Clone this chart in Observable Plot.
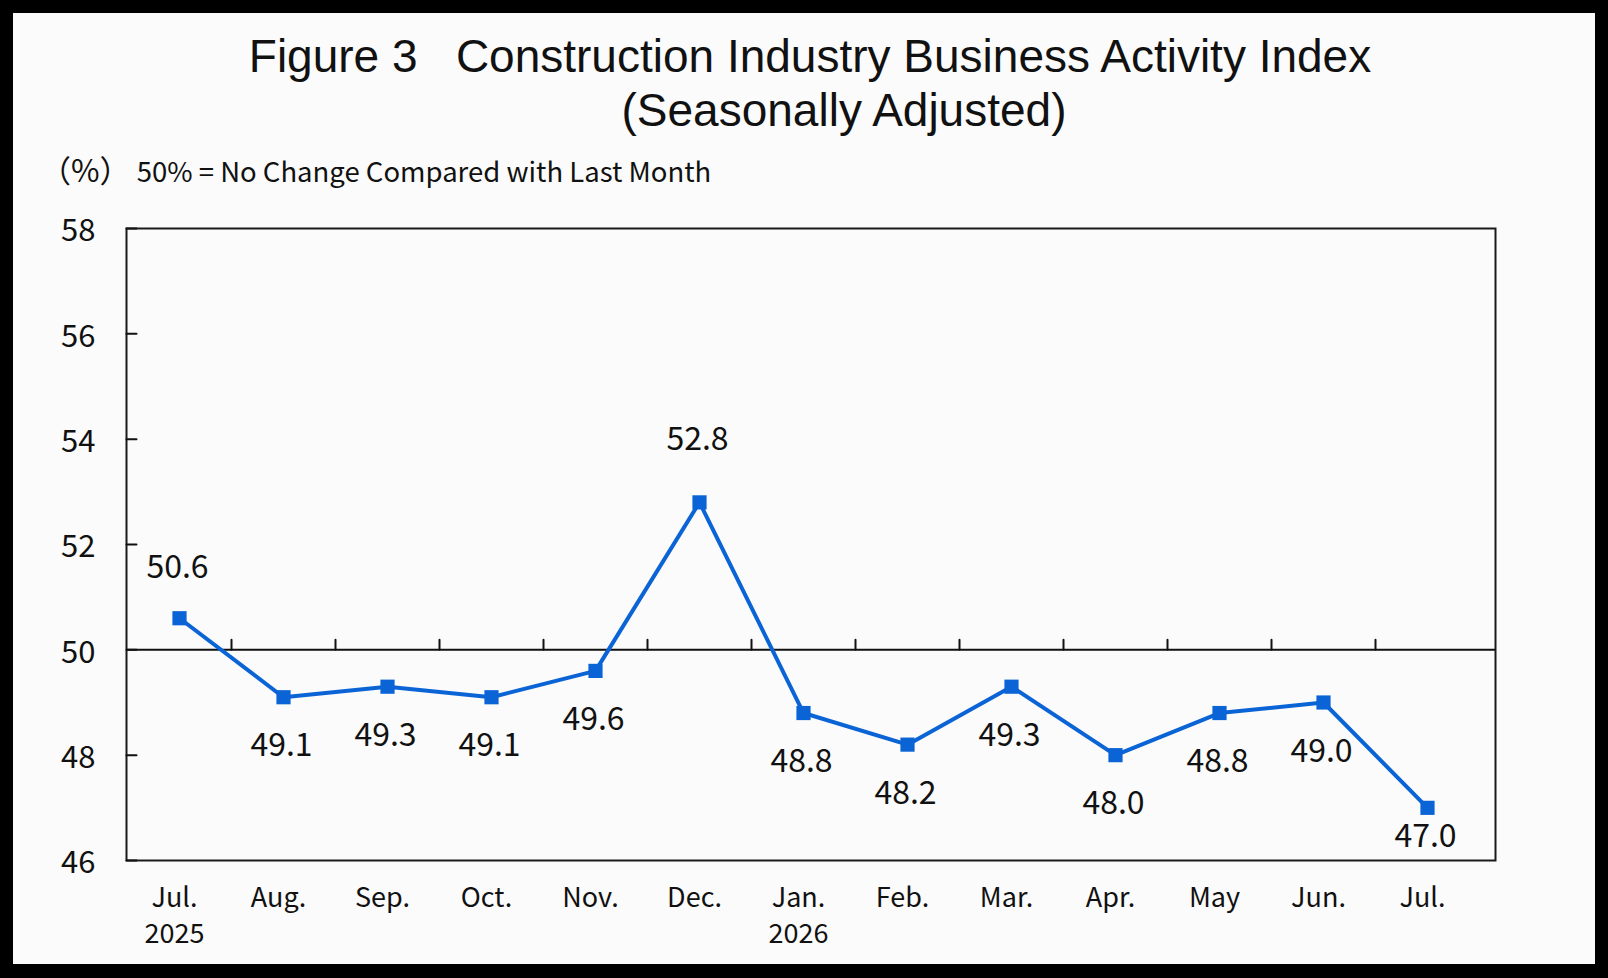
<!DOCTYPE html>
<html>
<head>
<meta charset="utf-8">
<script src="https://cdn.jsdelivr.net/npm/d3@7"></script>
<script src="https://cdn.jsdelivr.net/npm/@observablehq/plot@0.6"></script>
<style>
  html, body { margin: 0; padding: 0; background: #000; }
  #page { position: relative; width: 1608px; height: 978px; background: #000; overflow: hidden; }
  #panel { position: absolute; left: 13px; top: 13px; width: 1582px; height: 951px; background: #fbfbfb; }
  .t { position: absolute; white-space: pre; line-height: 1; color: #111; }
  .title { font-family: "Liberation Sans", Arial, sans-serif; font-size: 46px; transform: translateX(-50%); }
  #sub { font-family: "Noto Sans CJK SC", sans-serif; font-size: 27.5px; left: 40px; top: 153px; }
  #sub .unit { font-size: 31px; }
  #chart { position: absolute; left: 0; top: 200px; }
</style>
</head>
<body>
<div id="page">
  <div id="panel"></div>
  <div class="t title" style="left:810px; top:33px;">Figure 3   Construction Industry Business Activity Index</div>
  <div class="t title" style="left:844px; top:87px;">(Seasonally Adjusted)</div>
  <div class="t" id="sub"><span class="unit">（%）</span> 50% = No Change Compared with Last Month</div>
  <div id="chart"></div>
</div>
<script>
// Monthly construction business activity index, seasonally adjusted
const months = ["Jul.", "Aug.", "Sep.", "Oct.", "Nov.", "Dec.", "Jan.", "Feb.", "Mar.", "Apr.", "May", "Jun.", "Jul."];
const years = ["2025", "", "", "", "", "", "2026", "", "", "", "", "", ""];
const values = [50.6, 49.1, 49.3, 49.1, 49.6, 52.8, 48.8, 48.2, 49.3, 48.0, 48.8, 49.0, 47.0];
const yTicks = [46, 48, 50, 52, 54, 56, 58];
const neutral = 50;

const blue = "#0a64d6";
const ink = "#111";

const data = values.map((v, i) => ({i, v, label: v.toFixed(1)}));

// vertical offset (px) of each value label from its marker
const labelDy = [-50, 49, 49, 49, 49, -63, 49, 49, 49, 49, 49, 49, 29];
const labelGroups = d3.groups(data, d => labelDy[d.i]);

// a plain tick stroke drawn by Plot.vector
const spike = {draw(context, l) { context.moveTo(0, 0); context.lineTo(0, -l); }};

const chart = Plot.plot({
  width: 1608,
  height: 770,
  marginTop: 28,
  marginBottom: 110,
  marginLeft: 126,
  marginRight: 113,
  style: {background: "transparent", fontFamily: '"Noto Sans CJK SC", sans-serif', color: ink},
  x: {type: "linear", domain: [-0.5, 12.5], range: [127, 1479]},
  y: {domain: [46, 58]},
  marks: [
    Plot.frame({stroke: "#1a1a1a", strokeWidth: 2}),
    Plot.ruleY([neutral], {stroke: ink, strokeWidth: 2}),
    // category separators standing on the 50 line
    Plot.vector(d3.range(1, 13).map(k => k - 0.5), {
      x: d => d, y: neutral, length: 10, rotate: 0, anchor: "start",
      shape: spike, stroke: ink, strokeWidth: 2
    }),
    // inward y ticks
    Plot.vector(yTicks, {
      y: d => d, frameAnchor: "left", length: 10, rotate: 90, anchor: "start",
      shape: spike, stroke: ink, strokeWidth: 2
    }),
    Plot.axisY(yTicks, {tickSize: 0, tickPadding: 31, fontSize: 31, dy: 3, label: null, tickFormat: d => String(d)}),
    Plot.axisX(d3.range(13), {
      tickSize: 0, tickPadding: 20, fontSize: 27, lineHeight: 1.36, dx: -5, label: null,
      tickFormat: i => years[i] ? `${months[i]}\n${years[i]}` : months[i]
    }),
    Plot.line(data, {x: "i", y: "v", stroke: blue, strokeWidth: 4}),
    Plot.dot(data, {x: "i", y: "v", symbol: "square", r: 8, fill: blue, stroke: null}),
    ...labelGroups.map(([dy, rows]) =>
      Plot.text(rows, {x: "i", y: "v", text: "label", dy, dx: -2, fontSize: 32, fill: ink})
    )
  ]
});

document.getElementById("chart").appendChild(chart);
</script>
</body>
</html>
